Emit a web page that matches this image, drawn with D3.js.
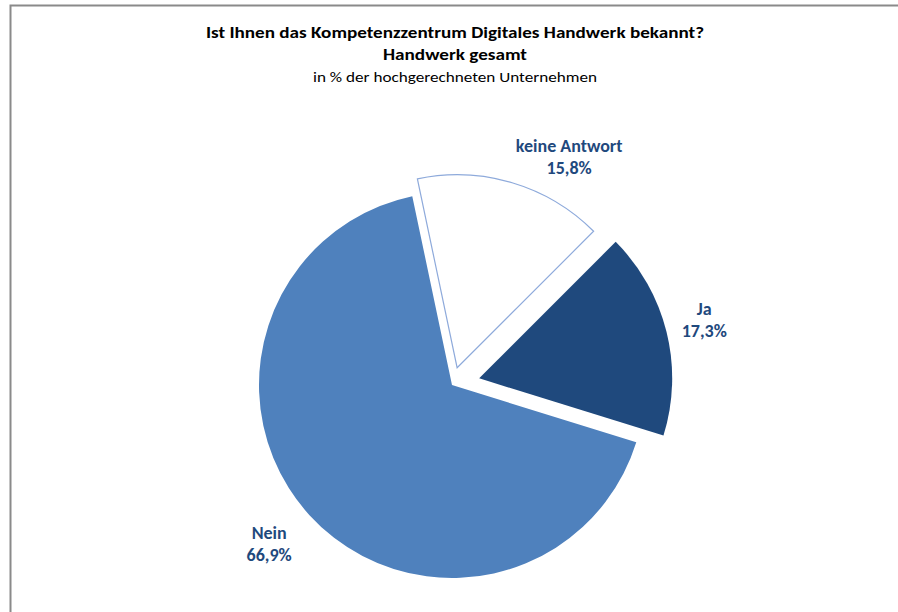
<!DOCTYPE html>
<html>
<head>
<meta charset="utf-8">
<script src="https://cdn.jsdelivr.net/npm/d3@7"></script>
<style>
  body { margin: 0; background: #fff; }
  svg { display: block; }
  text { font-family: Carlito, Lato, "Open Sans", sans-serif; }
</style>
</head>
<body>
<svg id="chart" width="898" height="612"></svg>
<script>
// data
var categories = ["Ja", "Nein", "keine Antwort"];
var shares = [17.3, 66.9, 15.8];
var shareLabels = ["17,3%", "66,9%", "15,8%"];
var titleLines = [
  "Ist Ihnen das Kompetenzzentrum Digitales Handwerk bekannt?",
  "Handwerk gesamt",
  "in % der hochgerechneten Unternehmen"
];

var fills = ["#1F497D", "#4F81BD", "#FFFFFF"];
var strokes = ["none", "none", "#8EAADB"];
var explode = [28, 0, 18];          // px pulled out along the mid angle
var labelNudge = [[3, -2], [7, -12], [44, 20]];

var svg = d3.select("#chart");
var cx = 452, cy = 385, r = 193;

// frame (only top + left edge show)
svg.append("path")
  .attr("d", "M10.5,612V5.5H898")
  .attr("fill", "none")
  .attr("stroke", "#8a8a8a")
  .attr("stroke-width", 2);

// titles
var titleSpec = [
  { y: 38, size: 16, weight: "bold", len: 498 },
  { y: 60, size: 16, weight: "bold", len: 144 },
  { y: 82, size: 14, weight: "normal", len: 284 }
];
svg.selectAll("text.title")
  .data(titleLines)
  .join("text")
  .attr("class", "title")
  .attr("x", 455)
  .attr("y", function(d, i){ return titleSpec[i].y; })
  .attr("text-anchor", "middle")
  .attr("font-size", function(d, i){ return titleSpec[i].size; })
  .attr("font-weight", function(d, i){ return titleSpec[i].weight; })
  .attr("textLength", function(d, i){ return titleSpec[i].len; })
  .attr("lengthAdjust", "spacingAndGlyphs")
  .attr("fill", "#000")
  .text(function(d){ return d; });

// pie, excel style: first slice at 45deg, clockwise
var pie = d3.pie().sort(null)
  .startAngle(Math.PI / 4)
  .endAngle(Math.PI / 4 + 2 * Math.PI);
var arcs = pie(shares);
var arc = d3.arc().innerRadius(0).outerRadius(r);

function polar(a, d){ return [Math.sin(a) * d, -Math.cos(a) * d]; }

var g = svg.append("g").attr("transform", "translate(" + cx + "," + cy + ")");

g.selectAll("path.slice")
  .data(arcs)
  .join("path")
  .attr("class", "slice")
  .attr("transform", function(d, i){
    var p = polar((d.startAngle + d.endAngle) / 2, explode[i]);
    return "translate(" + p[0] + "," + p[1] + ")";
  })
  .attr("d", arc)
  .attr("fill", function(d, i){ return fills[i]; })
  .attr("stroke", function(d, i){ return strokes[i]; })
  .attr("stroke-width", 1.2);

// labels, outside along mid angle
var lab = g.selectAll("text.lab")
  .data(arcs)
  .join("text")
  .attr("class", "lab")
  .attr("text-anchor", "middle")
  .attr("font-size", 18)
  .attr("font-weight", "bold")
  .attr("fill", "#1F497D")
  .attr("transform", function(d, i){
    var p = polar((d.startAngle + d.endAngle) / 2, r * 1.33);
    return "translate(" + (p[0] + labelNudge[i][0]) + "," + (p[1] + labelNudge[i][1]) + ")";
  });
lab.append("tspan").attr("x", 0).attr("y", -7)
  .text(function(d, i){ return categories[i]; });
lab.append("tspan").attr("x", 0).attr("y", 15)
  .text(function(d, i){ return shareLabels[i]; });
</script>
</body>
</html>
